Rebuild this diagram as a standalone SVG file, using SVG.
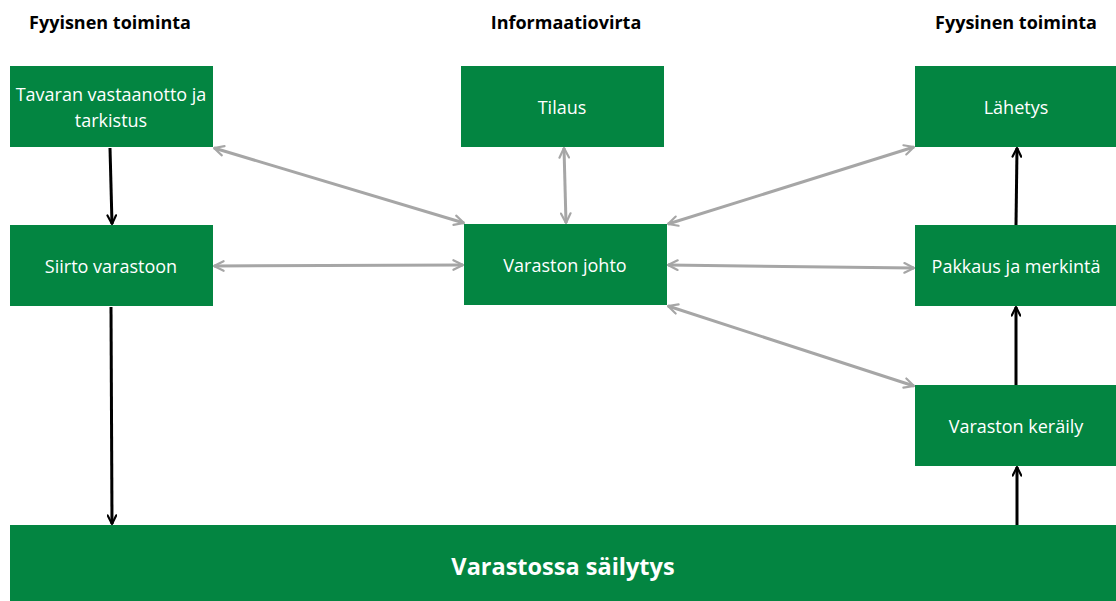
<svg xmlns="http://www.w3.org/2000/svg" width="1116" height="601" viewBox="0 0 1116 601">
<style>
.box{fill:#038541}
.t{font-family:"Open Sans","Liberation Sans",sans-serif;font-size:18px;fill:#ffffff;text-anchor:middle}
.h{font-family:"Open Sans","Liberation Sans",sans-serif;font-size:18px;font-weight:bold;fill:#000000;text-anchor:middle}
.big{font-family:"Open Sans","Liberation Sans",sans-serif;font-size:23.5px;font-weight:bold;fill:#ffffff;text-anchor:middle}
.g{stroke:#a6a6a6;stroke-width:3;fill:none;marker-start:url(#ga);marker-end:url(#ga)}
.k{stroke:#000000;stroke-width:3;fill:none;marker-end:url(#ka)}
</style>
<defs>
<marker id="ga" viewBox="0 0 10 10" refX="9" refY="5" markerWidth="4" markerHeight="4" orient="auto-start-reverse" markerUnits="strokeWidth">
<path d="M1,1 L9,5 L1,9" fill="none" stroke="#a6a6a6" stroke-width="1.8" stroke-linecap="round" stroke-linejoin="round"/>
</marker>
<marker id="ka" viewBox="0 0 10 10" refX="9" refY="5" markerWidth="3.6" markerHeight="3.6" orient="auto" markerUnits="strokeWidth">
<path d="M1,1 L9,5 L1,9" fill="none" stroke="#000000" stroke-width="2" stroke-linecap="round" stroke-linejoin="round"/>
</marker>
</defs>
<text class="h" x="110" y="29">Fyyisnen toiminta</text>
<text class="h" x="566" y="29">Informaatiovirta</text>
<text class="h" x="1016" y="29">Fyysinen toiminta</text>
<g id="connectors">
<line class="k" x1="110" y1="148" x2="112" y2="224"/>
<line class="k" x1="111" y1="307" x2="112" y2="524"/>
<line class="k" x1="1017" y1="525" x2="1017" y2="467"/>
<line class="k" x1="1016" y1="385" x2="1016" y2="307"/>
<line class="k" x1="1016" y1="225" x2="1017" y2="148"/>
<line class="g" x1="214" y1="148" x2="464" y2="223"/>
<line class="g" x1="214" y1="266" x2="463" y2="265"/>
<line class="g" x1="564" y1="148" x2="566" y2="223"/>
<line class="g" x1="668" y1="224" x2="914" y2="147"/>
<line class="g" x1="668" y1="265" x2="914" y2="268"/>
<line class="g" x1="668" y1="306" x2="914" y2="386"/>
</g>
<g id="n1"><rect class="box" x="10" y="66" width="203" height="81"/><text class="t" x="111" y="101">Tavaran vastaanotto ja</text><text class="t" x="111" y="127">tarkistus</text></g>
<g id="n2"><rect class="box" x="10" y="225" width="203" height="81"/><text class="t" x="111" y="273">Siirto varastoon</text></g>
<g id="n3"><rect class="box" x="461" y="66" width="203" height="81"/><text class="t" x="562" y="114">Tilaus</text></g>
<g id="n4"><rect class="box" x="464" y="224" width="203" height="81"/><text class="t" x="565" y="272">Varaston johto</text></g>
<g id="n5"><rect class="box" x="915" y="66" width="201" height="81"/><text class="t" x="1016" y="114">Lähetys</text></g>
<g id="n6"><rect class="box" x="915" y="225" width="201" height="81"/><text class="t" x="1016" y="273">Pakkaus ja merkintä</text></g>
<g id="n7"><rect class="box" x="915" y="385" width="201" height="81"/><text class="t" x="1016" y="433">Varaston keräily</text></g>
<g id="n8"><rect class="box" x="10" y="525" width="1106" height="76"/><text class="big" x="563" y="575">Varastossa säilytys</text></g>
</svg>
